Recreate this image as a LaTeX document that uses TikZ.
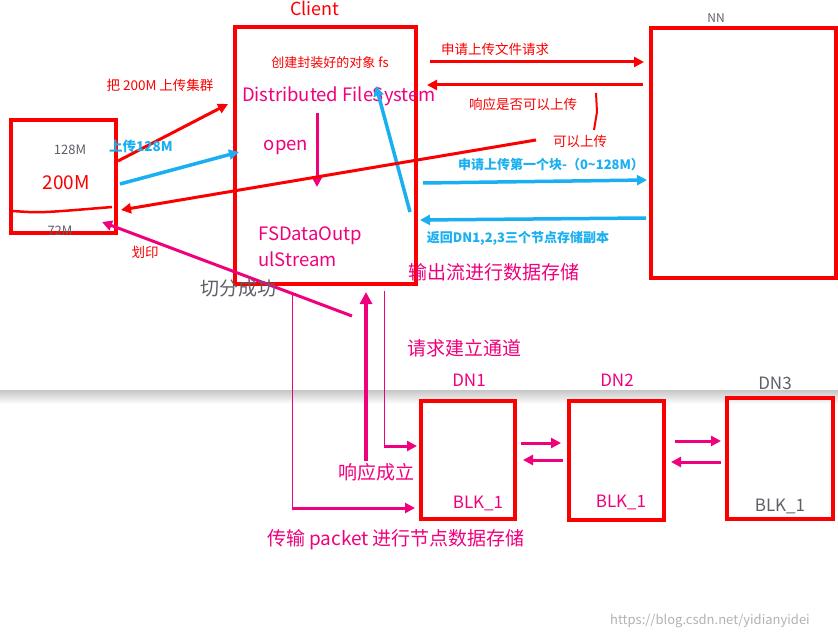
\documentclass[tikz,border=0pt]{standalone}
\usepackage{fontspec}
\setmainfont{Noto Sans CJK SC}
\usetikzlibrary{arrows.meta}
\definecolor{rd}{RGB}{250,0,0}
\definecolor{pk}{RGB}{240,0,125}
\definecolor{bl}{RGB}{25,175,240}
\definecolor{gt}{RGB}{95,95,105}
\begin{document}
\begin{tikzpicture}[x=1pt,y=-1pt,
 box/.style={draw=rd,line width=3.5pt},
 t/.style={inner sep=0pt,font=\fontsize{#1}{#1}\selectfont},
 tb/.style={inner sep=0pt,font=\bfseries\fontsize{#1}{#1}\selectfont},
 ra/.style={rd,line width=3pt,-{Triangle[length=10pt,width=10pt]}},
 ba/.style={bl,line width=3.5pt,-{Triangle[length=10pt,width=10pt]}},
 pa/.style={pk,line width=3pt,-{Triangle[length=10pt,width=10pt]}},
 tp/.style={pk,line width=0.8pt}]
\useasboundingbox (0,0) rectangle (838,639);
\fill[white] (0,0) rectangle (838,639);
\shade[top color=gray!45,bottom color=white] (0,390) rectangle (838,404);
% boxes
\draw[box] (235,27) rectangle (416,284);
\draw[box] (651,28) rectangle (836,278);
\draw[box] (11,120) rectangle (116,233);
\draw[box] (421,401) rectangle (515,519);
\draw[box] (569,401) rectangle (664,520);
\draw[box] (727,398) rectangle (833,519);
\node[t=18,rd] (client) at (315,8) {Client};
\node[t=12,gt] (nn) at (716,18) {NN};
\node[t=13,gt] (m128) at (70,150) {128M};
\node[t=19,rd] (m200) at (66,183) {200M};
\node[t=13,gt] (m72) at (60,231) {72M};
\draw[rd,line width=2.5pt] (13,211) .. controls (40,213) .. (112,207);
\node[t=17,pk] (dn1) at (469,380) {DN1};
\node[t=17,pk] (dn2) at (617,380) {DN2};
\node[t=17,gt] (dn3) at (775,383) {DN3};
\node[t=17,pk] (b1) at (478,503) {BLK\_1};
\node[t=17,pk] (b2) at (621,502) {BLK\_1};
\node[t=17,gt] (b3) at (780,506) {BLK\_1};
% client contents
\node[t=13,rd] (fs) at (330,63) {创建封装好的对象 fs};
\node[t=18.5,pk] (dfs) at (339,96) {Distributed FileSystem};
\node[t=18.5,pk] (open) at (286,147) {open};
\node[t=18.5,pk,anchor=west] (fso) at (258,236) {FSDataOutp};
\node[t=18.5,pk,anchor=west] (fso2) at (258,259) {ulStream};
\coordinate (o1) at (317,113); \coordinate (o2) at (317,187);
\draw[pa] (o1) -- (o2);
\coordinate (u1) at (410,212); \coordinate (u2) at (376,86);
\draw[ba] (u1) -- (u2);
% left side
\node[t=13.5,rd] (l1) at (160,85) {把 200M 上传集群};
\coordinate (a1) at (118,161); \coordinate (a2) at (228,104);
\draw[ra] (a1) -- (a2);
\node[tb=13.5,bl] (l2) at (141,146) {上传128M};
\coordinate (c1) at (120,184); \coordinate (c2) at (239,152);
\draw[ba] (c1) -- (c2);
\coordinate (d1) at (536,140); \coordinate (d2) at (121,210);
\draw[ra] (d1) -- (d2);
\node[t=13.5,rd] (hy) at (145,252) {划印};
\coordinate (e1) at (352,316); \coordinate (e2) at (102,222);
\draw[pa] (e1) -- (e2);
\node[t=19,gt] (qf) at (238,288) {切分成功};
% NN arrows
\node[t=13.5,rd] (n1) at (495,49) {申请上传文件请求};
\coordinate (f1) at (430,62); \coordinate (f2) at (644,62);
\draw[ra] (f1) -- (f2);
\coordinate (g1) at (643,85); \coordinate (g2) at (427,85);
\draw[ra] (g1) -- (g2);
\node[t=13.5,rd] (n2) at (523,104) {响应是否可以上传};
\draw[rd,line width=2pt] (596,93) -- (597,112) -- (594,130);
\node[t=13.5,rd] (n3) at (580,141) {可以上传};
\node[tb=13,bl] (n4) at (551,165) {申请上传第一个块-（0\textasciitilde128M）};
\coordinate (h1) at (423,183); \coordinate (h2) at (647,180);
\draw[ba] (h1) -- (h2);
\coordinate (i1) at (646,218); \coordinate (i2) at (420,220);
\draw[ba] (i1) -- (i2);
\node[tb=13,bl] (n5) at (518,238) {返回DN1,2,3三个节点存储副本};
\node[t=19,pk] (sc) at (494,272) {输出流进行数据存储};
% DN flow
\coordinate (j1) at (366,461); \coordinate (j2) at (366,292);
\draw[pk,line width=4pt,-{Triangle[length=12pt,width=12pt]}] (j1) -- (j2);
\coordinate (k1) at (384,291); \coordinate (k2) at (384,446); \coordinate (k3) at (417,446);
\draw[tp] (k1) -- (k2);
\draw[pa] (k2) -- (k3);
\node[t=19,pk] (qq) at (464,348) {请求建立通道};
\node[t=19,pk] (xy) at (376,472) {响应成立};
\coordinate (m1) at (292,294); \coordinate (m2) at (292,508); \coordinate (m3) at (415,508);
\draw[tp] (m1) -- (m2);
\draw[pa] (m2) -- (m3);
\node[t=19,pk] (cs) at (396,540) {传输 packet 进行节点数据存储};
\coordinate (p1) at (521,443); \coordinate (p2) at (561,443);
\draw[pa] (p1) -- (p2);
\coordinate (q1) at (563,460); \coordinate (q2) at (523,460);
\draw[pa] (q1) -- (q2);
\coordinate (r1) at (675,441); \coordinate (r2) at (721,441);
\draw[pa] (r1) -- (r2);
\coordinate (s1) at (721,462); \coordinate (s2) at (671,462);
\draw[pa] (s1) -- (s2);
\node[t=13,gray!60] (wm) at (710,621) {https://blog.csdn.net/yidianyidei};
\end{tikzpicture}
\end{document}
